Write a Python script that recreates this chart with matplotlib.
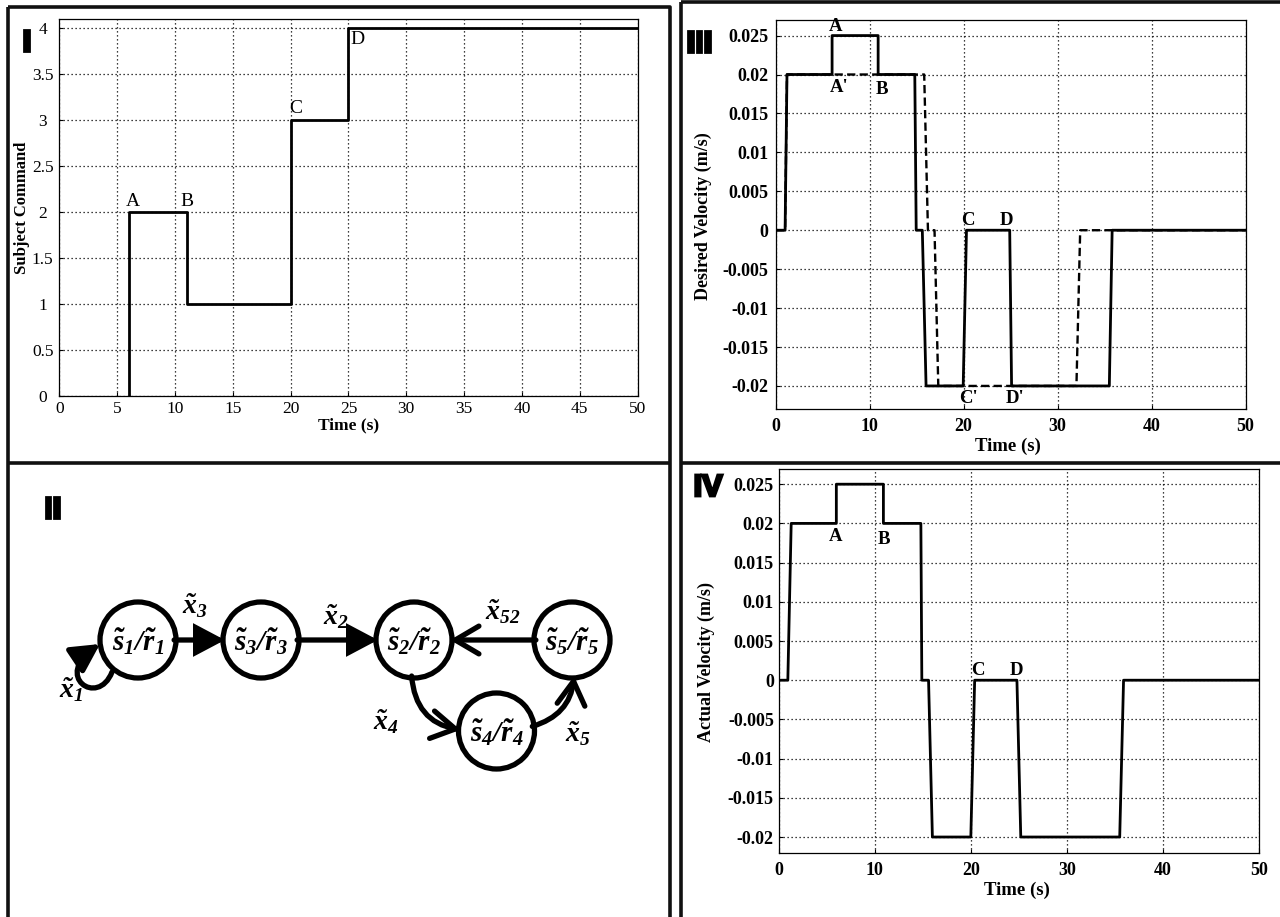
import numpy as np
import matplotlib.pyplot as plt
from matplotlib.patches import Circle, FancyArrowPatch, ArrowStyle
from matplotlib.path import Path
import matplotlib.patheffects as pe

plt.rcParams['font.family'] = 'Liberation Serif'
plt.rcParams['mathtext.fontset'] = 'custom'
plt.rcParams['mathtext.it'] = 'Liberation Serif:italic:bold'
plt.rcParams['mathtext.rm'] = 'Liberation Serif:italic:bold'
plt.rcParams['mathtext.bf'] = 'Liberation Serif:bold'

W, H = 1280, 917

# ---- panel I: subject command
cmd_t = [6, 6, 11, 11, 20, 20, 25, 25, 50]
cmd_v = [0, 2, 2, 1, 1, 3, 3, 4, 4]
cmd_marks = ['A', 'B', 'C', 'D']
cmd_mark_t = [6.35, 10.45, 19.9, 25.15]
cmd_mark_v = [2.02, 2.02, 3.03, 3.97]

# ---- panel III: desired velocity (solid) and reference (dashed)
des_t = [0, 1.0, 1.2, 6.0, 6.0, 10.9, 10.9, 14.8, 14.95, 15.6, 16.0, 19.95, 20.3, 24.9, 25.1, 35.5, 35.8, 50]
des_v = [0, 0, 0.02, 0.02, 0.025, 0.025, 0.02, 0.02, 0, 0, -0.02, -0.02, 0, 0, -0.02, -0.02, 0, 0]
ref_t = [0, 1.0, 1.2, 15.8, 16.2, 16.9, 17.3, 32.0, 32.4, 50]
ref_v = [0, 0, 0.02, 0.02, 0, 0, -0.02, -0.02, 0, 0]
des_marks = ["A", "A'", "B", "C", "D", "C'", "D'"]
des_mark_t = [6.4, 6.75, 11.3, 20.5, 24.6, 20.5, 25.5]
des_mark_v = [0.0262, 0.0183, 0.0181, 0.0012, 0.0012, -0.0216, -0.0216]

# ---- panel IV: actual velocity
act_t = [0, 0.95, 1.3, 6.0, 6.0, 10.9, 10.9, 14.8, 14.9, 15.6, 16.0, 20.0, 20.4, 24.8, 25.2, 35.5, 35.9, 50]
act_v = [0, 0, 0.02, 0.02, 0.025, 0.025, 0.02, 0.02, 0, 0, -0.02, -0.02, 0, 0, -0.02, -0.02, 0, 0]
act_marks = ['A', 'B', 'C', 'D']
act_mark_t = [5.96, 10.96, 20.75, 24.8]
act_mark_v = [0.0183, 0.018, 0.0013, 0.0013]

vel_ticks = [-0.02, -0.015, -0.01, -0.005, 0, 0.005, 0.01, 0.015, 0.02, 0.025]
vel_labels = ['-0.02', '-0.015', '-0.01', '-0.005', '0', '0.005', '0.01', '0.015', '0.02', '0.025']

# ---- panel II: state diagram
node_sub = ['1', '3', '2', '5', '4']
node_x = [138, 261, 414, 572, 496.5]
node_y = [640, 640, 640, 640, 731]
edge_lab = ['1', '3', '2', '52', '4', '5']
edge_lab_x = [71, 195, 336, 503, 386, 578]
edge_lab_y = [690, 606, 617, 612, 722, 734]

fig = plt.figure(figsize=(W / 100, H / 100), dpi=100)


def px_axes(x0, y0, x1, y1):
    return fig.add_axes([x0 / W, 1 - y1 / H, (x1 - x0) / W, (y1 - y0) / H])


# frame lines
bg = px_axes(0, 0, W, H)
bg.set_xlim(0, W)
bg.set_ylim(H, 0)
bg.axis('off')
fl = dict(color='#111111', lw=2.6, solid_capstyle='butt')
bg.plot([8, 670, 670], [7, 7, H], **fl)
bg.plot([8, 8], [7, H], **fl)
bg.plot([8, 670], [463, 463], **fl)
bg.plot([681, W], [2, 2], **fl)
bg.plot([681, 681], [2, H], **fl)
bg.plot([681, W], [463, 463], **fl)


def style_axes(ax, tsize, tweight):
    ax.grid(True, color='k', lw=0.9, ls=(0, (1, 2.2)))
    ax.tick_params(direction='in', length=3, width=0.8, labelsize=tsize)
    for lab in ax.get_xticklabels() + ax.get_yticklabels():
        lab.set_fontweight(tweight)
    for s in ax.spines.values():
        s.set_linewidth(0.9)


def roman(x, y, txt):
    fig.text(x / W, 1 - y / H, txt, ha='center', va='center', fontsize=22,
             family='Liberation Sans', weight='bold',
             path_effects=[pe.withStroke(linewidth=2.0, foreground='k',
                                         joinstyle='miter', capstyle='butt')])


# ---- panel I
ax1 = px_axes(59.4, 19, 637.5, 395.7)
ax1.plot(cmd_t, cmd_v, color='k', lw=2.0)
ax1.set_xlim(0, 50)
ax1.set_ylim(0, 4.1)
ax1.set_xticks(np.arange(0, 51, 5))
ax1.set_yticks(np.arange(0, 4.01, 0.5))
ax1.set_yticklabels(['0', '0.5', '1', '1.5', '2', '2.5', '3', '3.5', '4'])
style_axes(ax1, 12.5, 'normal')
for lab in ax1.get_yticklabels():
    lab.set_horizontalalignment('center')
ax1.tick_params(axis='y', pad=12)
ax1.tick_params(axis='x', pad=4)
for m, t, v in zip(cmd_marks, cmd_mark_t, cmd_mark_v):
    va = 'top' if m == 'D' else 'bottom'
    ha = 'center' if m == 'A' else 'left'
    ax1.text(t, v, m, ha=ha, va=va, fontsize=14)
ax1.set_xlabel('Time (s)', fontsize=12.5, weight='bold', va='center')
ax1.xaxis.set_label_coords(0.5, -0.078)
ax1.set_ylabel('Subject Command', fontsize=12, weight='bold', va='center')
ax1.yaxis.set_label_coords(-0.064, 0.498)
roman(26.5, 43, 'I')

# ---- panel III
ax3 = px_axes(775.7, 20, 1245.6, 409.3)
ax3.plot(ref_t, ref_v, color='k', lw=1.7, ls=(0, (3.5, 1.8)))
ax3.plot(des_t, des_v, color='k', lw=2.0)
ax3.set_xlim(0, 50)
ax3.set_ylim(-0.023, 0.027)
ax3.set_xticks(np.arange(0, 51, 10))
ax3.set_yticks(vel_ticks)
ax3.set_yticklabels(vel_labels)
style_axes(ax3, 13, 'bold')
ax3.tick_params(axis='y', pad=5.5)
ax3.tick_params(axis='x', pad=6.5)
for m, t, v in zip(des_marks, des_mark_t, des_mark_v):
    ax3.text(t, v, m, ha='center', va='center', fontsize=13.5, weight='bold')
ax3.set_xlabel('Time (s)', fontsize=13.5, weight='bold', va='center')
ax3.xaxis.set_label_coords(0.494, -0.094)
ax3.set_ylabel('Desired Velocity (m/s)', fontsize=13, weight='bold', va='center')
ax3.yaxis.set_label_coords(-0.153, 0.495)
roman(699, 44, 'III')

# ---- panel IV
ax4 = px_axes(778.7, 469.3, 1259, 852.7)
ax4.plot(act_t, act_v, color='k', lw=2.0)
ax4.set_xlim(0, 50)
ax4.set_ylim(-0.022, 0.0269)
ax4.set_xticks(np.arange(0, 51, 10))
ax4.set_yticks(vel_ticks)
ax4.set_yticklabels(vel_labels)
style_axes(ax4, 13, 'bold')
ax4.tick_params(axis='y', pad=3.5)
ax4.tick_params(axis='x', pad=6.5)
for m, t, v in zip(act_marks, act_mark_t, act_mark_v):
    ax4.text(t, v, m, ha='center', va='center', fontsize=13.5, weight='bold')
ax4.set_xlabel('Time (s)', fontsize=13.5, weight='bold', va='center')
ax4.xaxis.set_label_coords(0.496, -0.097)
ax4.set_ylabel('Actual Velocity (m/s)', fontsize=13, weight='bold', va='center')
ax4.yaxis.set_label_coords(-0.150, 0.498)
roman(708, 488, 'IV')

# ---- panel II
ax2 = px_axes(10, 465, 668, 917)
ax2.set_xlim(10, 668)
ax2.set_ylim(917, 465)
ax2.axis('off')
circles = []
for s, x, y in zip(node_sub, node_x, node_y):
    c = Circle((x, y), 38, fill=False, lw=3.8, ec='k')
    ax2.add_patch(c)
    circles.append(c)
    ax2.text(x, y + 2, r'$\tilde{s}_{%s}/\tilde{r}_{%s}$' % (s, s), ha='center', va='center', fontsize=21)

stealth = ArrowStyle('-|>', head_length=17, head_width=9)
chevron = ArrowStyle('->', head_length=17, head_width=10)
edges = [(0, 1, stealth, 0.0), (1, 2, stealth, 0.0), (3, 2, chevron, 0.0),
         (2, 4, chevron, 0.65), (4, 3, chevron, 0.6)]
for a, b, sty, rad in edges:
    ar = FancyArrowPatch((node_x[a], node_y[a]), (node_x[b], node_y[b]),
                         patchA=circles[a], patchB=circles[b], shrinkA=0, shrinkB=0,
                         arrowstyle=sty, connectionstyle='arc3,rad=%s' % rad,
                         mutation_scale=1, lw=3.8, color='k', joinstyle='miter')
    ax2.add_patch(ar)

# self loop on s1
loop = Path([(112, 672), (98, 708), (52, 676), (100, 644)],
            [Path.MOVETO, Path.CURVE4, Path.CURVE4, Path.CURVE4])
ax2.add_patch(FancyArrowPatch(path=loop, arrowstyle=stealth, mutation_scale=1,
                              lw=3.8, color='k'))

for s, x, y in zip(edge_lab, edge_lab_x, edge_lab_y):
    ax2.text(x, y, r'$\tilde{x}_{%s}$' % s, ha='center', va='center', fontsize=20)

roman(52, 510, 'II')

fig.savefig('out.png', dpi=100)
